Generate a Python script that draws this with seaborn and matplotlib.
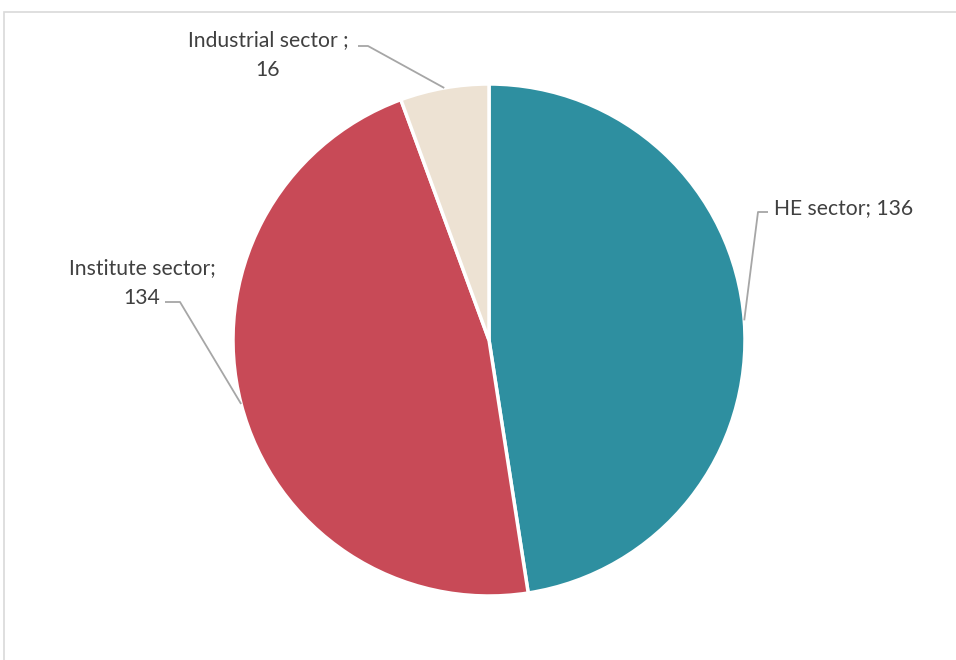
import numpy as np
import matplotlib.pyplot as plt
import matplotlib.patches as mpatches
import seaborn as sns

sectors = ['HE sector', 'Institute sector', 'Industrial sector']
counts = [136, 134, 16]
label_texts = ['HE sector; 136', 'Institute sector;\n134', 'Industrial sector ;\n16']
colors = ['#2E8FA0', '#C84A57', '#EDE2D3']

sns.set_theme(style='white')
plt.rcParams['font.family'] = ['Lato', 'DejaVu Sans']

W, H = 956, 660
fig = plt.figure(figsize=(W / 100, H / 100), dpi=100)
ax = fig.add_axes([0, 0, 1, 1])

def py(y):
    # pixel row (from top) -> data y
    return H - y

# chart frame (runs off the right and bottom of the image)
ax.add_patch(mpatches.Rectangle((4, py(12) - 900), 1100, 900, fill=False,
                                edgecolor='#D9D9D9', linewidth=1.2))

cx, cy, r = 489, py(340), 256
wedges, _ = ax.pie(counts, colors=colors, startangle=90, counterclock=False,
                   center=(cx, cy), radius=r, frame=True,
                   wedgeprops=dict(edgecolor='white', linewidth=2.5))
ax.set_xlim(0, W)
ax.set_ylim(0, H)
ax.set_aspect('equal')
ax.axis('off')

# label placement: text position, elbow, line end, alignment (pixels from top)
layout = [
    dict(xy=(774, 208), elbow=(758, 212), end=(768, 212), ha='left'),
    dict(xy=(142, 283), elbow=(180, 302), end=(165, 302), ha='center'),
    dict(xy=(268, 55), elbow=(368, 46), end=(358, 46), ha='center'),
]

for w, txt, lay in zip(wedges, label_texts, layout):
    mid = np.deg2rad((w.theta1 + w.theta2) / 2)
    ax_x = cx + r * np.cos(mid)
    ax_y = cy + r * np.sin(mid)
    ax.plot([ax_x, lay['elbow'][0], lay['end'][0]],
            [ax_y, py(lay['elbow'][1]), py(lay['end'][1])],
            color='#A6A6A6', linewidth=1.3, solid_capstyle='butt')
    ax.text(lay['xy'][0], py(lay['xy'][1]), txt, ha=lay['ha'], va='center',
            fontsize=15.2, color='#404040', linespacing=1.6)

fig.savefig('out.png', dpi=100)
